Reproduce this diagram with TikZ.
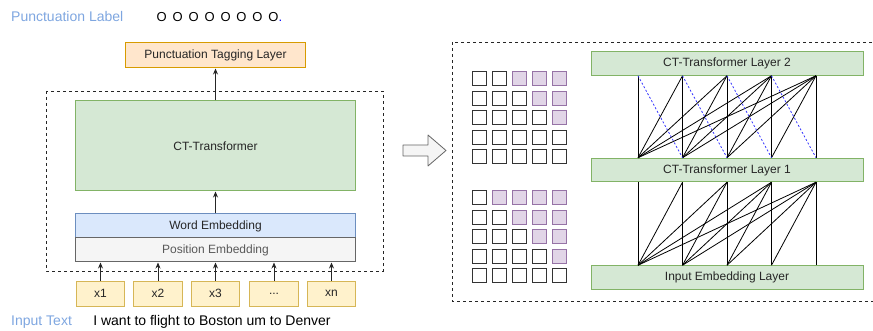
\documentclass[tikz,border=0pt]{standalone}
\usepackage{fontspec}
\setmainfont{Liberation Sans}
\usetikzlibrary{arrows.meta, positioning}
\definecolor{labelblue}{HTML}{7EA6E0}
\definecolor{greenfill}{HTML}{D5E8D4}
\definecolor{greenline}{HTML}{82B366}
\definecolor{orangefill}{HTML}{FFE6CC}
\definecolor{orangeline}{HTML}{D79B00}
\definecolor{bluefill}{HTML}{DAE8FC}
\definecolor{blueline}{HTML}{6C8EBF}
\definecolor{grayfill}{HTML}{F5F5F5}
\definecolor{grayline}{HTML}{666666}
\definecolor{yellowfill}{HTML}{FFF2CC}
\definecolor{yellowline}{HTML}{D6B656}
\definecolor{purplefill}{HTML}{E1D5E7}
\definecolor{purpleline}{HTML}{9673A6}
\definecolor{maskblue}{HTML}{3333FF}
\newcommand{\tokdots}{...}

\begin{document}
\begin{tikzpicture}[x=1pt, y=-1pt,
		box/.style={draw, line width=1pt, inner sep=0pt, text=black!85, font=\fontsize{12}{14}\selectfont},
		layerbox/.style={box, draw=greenline, fill=greenfill, minimum width=272pt, minimum height=23.5pt},
		tokbox/.style={box, draw=yellowline, fill=yellowfill, minimum width=48.5pt, minimum height=25pt},
		arr/.style={-{Stealth[length=6pt, width=5pt]}, line width=0.8pt, black!85},
		dashbox/.style={black!85, line width=0.8pt, dash pattern=on 3pt off 3pt},
		lbl/.style={inner sep=0pt, anchor=west, font=\fontsize{14}{16}\selectfont},
		link/.style={black, line width=0.8pt},
		masklink/.style={maskblue, line width=0.8pt, dash pattern=on 2pt off 2pt},
		cell/.style={draw=black!80, line width=1pt},
		maskcell/.style={draw=purpleline, fill=purplefill, line width=1pt}]
		\useasboundingbox (0,0) rectangle (873,331);
		\node [lbl, text=labelblue] (plabel) at (11,16.5) {Punctuation Label};
		\node [lbl, base right=33pt of plabel, font=\fontsize{13}{15}\selectfont] (ptags) {\addfontfeature{LetterSpace=45}OOOOOOOO\textcolor{blue}{.}};
		\node [lbl, text=labelblue] (intext) at (11,322) {Input Text};
		\node [lbl, base right=21pt of intext] (sentence) {I want to flight to Boston um to Denver};
		\draw [dashbox] (46,91) rectangle (383,271);
		\node [box, draw=orangeline, fill=orangefill, minimum width=180pt, minimum height=25pt] (tag) at (215.5,55.5) {Punctuation Tagging Layer};
		\node [box, draw=greenline, fill=greenfill, minimum width=280pt, minimum height=90pt] (ct) at (215.5,146) {CT-Transformer};
		\node [box, draw=blueline, fill=bluefill, minimum width=280pt, minimum height=24pt] (word) at (215.5,226) {Word Embedding};
		\node [box, draw=grayline, fill=grayfill, text=black!65, minimum width=280pt, minimum height=24pt] (pos) at (215.5,250) {Position Embedding};
		\foreach \x/\n/\t in {100.5/x1/x1, 158/x2/x2, 215.5/x3/x3, 274/dots/\tokdots, 331.5/xn/xn}{
			\node [tokbox] (\n) at (\x,293.5) {\t};
			\draw [arr] (\n.north) -- (\n.north |- pos.south);
		}
		\draw [arr] (word.north) -- (ct.south);
		\draw [arr] (ct.north) -- (tag.south);
		\draw [grayline, fill=grayfill, line width=0.8pt, line join=round] (403,145) -- (428,145) -- (428,135) -- (446,150.5) -- (428,166) -- (428,156) -- (403,156) -- cycle;
		\draw [dashbox] (452,42) rectangle (880,301);
		\foreach \r in {1,...,5}{
			\foreach \c in {1,...,5}{
				\ifnum\c>\numexpr\r+1\relax
					\draw [maskcell] ({472+(\c-1)*20.2},{72+(\r-1)*19.4}) rectangle ++(14,14);
				\else
					\draw [cell] ({472+(\c-1)*20.2},{72+(\r-1)*19.4}) rectangle ++(14,14);
				\fi
				\ifnum\c>\r
					\draw [maskcell] ({472+(\c-1)*20.2},{191+(\r-1)*19.4}) rectangle ++(14,14);
				\else
					\draw [cell] ({472+(\c-1)*20.2},{191+(\r-1)*19.4}) rectangle ++(14,14);
				\fi
			}
		}
		\node [layerbox] (l2) at (727,63.5) {CT-Transformer Layer 2};
		\node [layerbox] (l1) at (727,170) {CT-Transformer Layer 1};
		\node [layerbox] (emb) at (727,277.5) {Input Embedding Layer};
		\foreach \i in {1,...,5}{
			\path (l2.south) ++({\i*44.5-133.5},0) coordinate (u\i);
			\path (l1.north) ++({\i*44.5-133.5},0) coordinate (v\i);
			\path (l1.south) ++({\i*44.5-133.5},0) coordinate (p\i);
			\path (emb.north) ++({\i*44.5-133.5},0) coordinate (q\i);
		}
		\foreach \i in {1,...,5}{
			\foreach \j in {\i,...,5}{
				\draw [link] (v\i) -- (u\j);
				\draw [link] (q\i) -- (p\j);
			}
		}
		\foreach \i/\k in {1/2, 2/3, 3/4, 4/5}{
			\draw [masklink] (u\i) -- (v\k);
		}
	\end{tikzpicture}
\end{document}
